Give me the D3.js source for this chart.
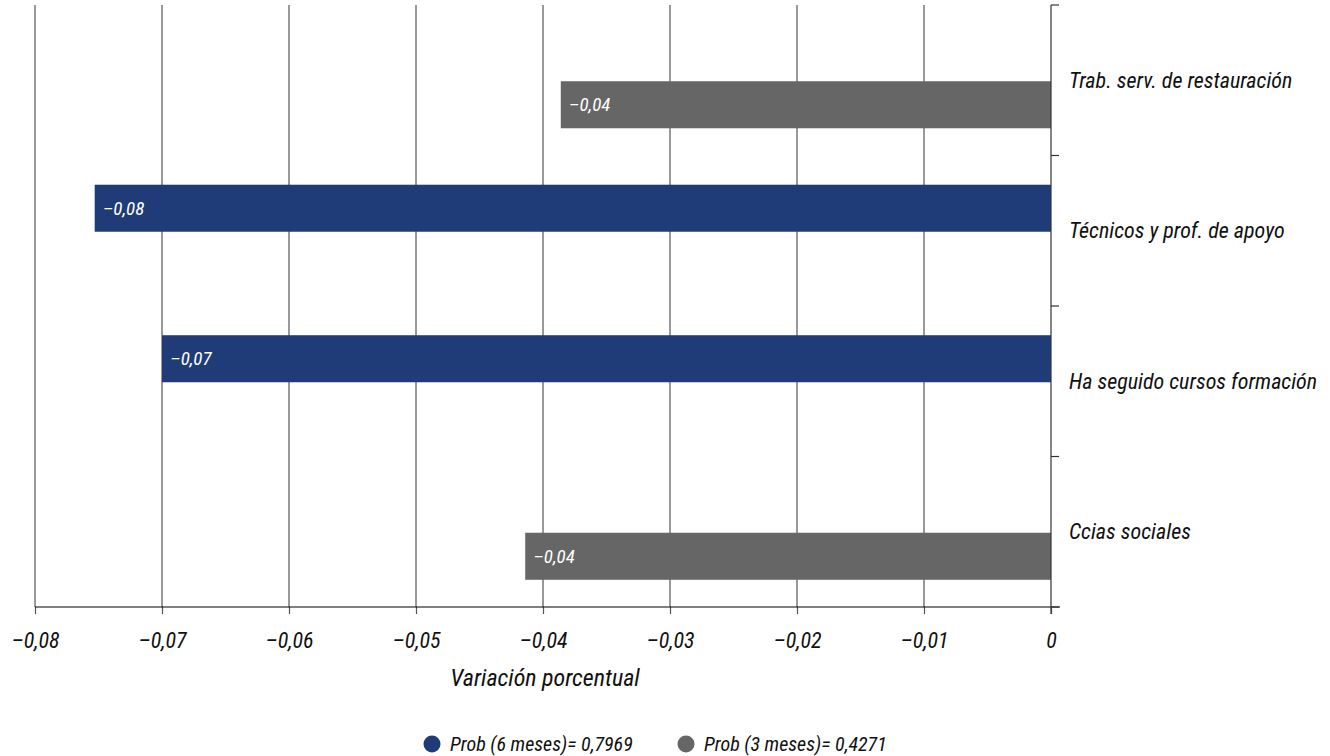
<!DOCTYPE html>
<html><head><meta charset="utf-8">
<script src="https://cdn.jsdelivr.net/npm/d3@7"></script>
<style>
body{margin:0;background:#fff;}
svg text{font-family:"Liberation Sans Narrow","Roboto Condensed","Liberation Sans",Arial,sans-serif;font-style:italic;}
</style></head>
<body><svg id="c" width="1330" height="756"></svg>
<script>
const categories = ["Trab. serv. de restauración","Técnicos y prof. de apoyo","Ha seguido cursos formación","Ccias sociales"];
const seriesNames = ["Prob (6 meses)= 0,7969","Prob (3 meses)= 0,4271"];
const prob6 = [null, -0.0753, -0.0700, null];
const prob3 = [-0.0386, null, null, -0.0414];
const xTicks = [-0.08,-0.07,-0.06,-0.05,-0.04,-0.03,-0.02,-0.01,0];
const colors = ["#1f3c78","#666666"];

const svg = d3.select("#c");
const x = d3.scaleLinear().domain([-0.08,0]).range([35,1051]);
const y = d3.scaleBand().domain(categories).range([5,607]).padding(0);
const yi = d3.scaleBand().domain([0,1]).range([0,y.bandwidth()]).paddingInner(0).paddingOuter(0.6);
const fmt = v => v===0 ? "0" : (v<0?"\u2013":"") + d3.format(".2f")(Math.abs(v)).replace(".",",");

// gridlines
svg.append("g").selectAll("line").data(xTicks.slice(0,-1)).join("line")
  .attr("x1",d=>x(d)).attr("x2",d=>x(d)).attr("y1",5).attr("y2",607)
  .attr("stroke","#555").attr("stroke-width",1.2);

// bars
const rows = [];
categories.forEach((c,i)=>{
  [prob6[i],prob3[i]].forEach((v,s)=>{ if(v!==null) rows.push({c,s,v}); });
});
const g = svg.append("g").attr("transform","translate(0,1)");
g.selectAll("rect").data(rows).join("rect")
  .attr("x",d=>x(d.v)).attr("width",d=>x(0)-x(d.v))
  .attr("y",d=>y(d.c)+yi(d.s)).attr("height",yi.bandwidth())
  .attr("fill",d=>colors[d.s]);
g.selectAll("text").data(rows).join("text")
  .attr("x",d=>x(d.v)+8).attr("y",d=>y(d.c)+yi(d.s)+yi.bandwidth()/2)
  .attr("dy","0.35em").attr("fill","#fff").attr("font-size",19)
  .text(d=>fmt(d.v));

// bottom axis
const xAxis = d3.axisBottom(x).tickValues(xTicks).tickSize(7).tickPadding(18).tickFormat(fmt);
const ax = svg.append("g").attr("transform","translate(0,607)").call(xAxis);
ax.select(".domain").remove();
ax.append("line").attr("x1",35).attr("x2",1060).attr("y1",0).attr("y2",0).attr("stroke","#000").attr("stroke-width",1.2);
ax.selectAll(".tick line").attr("stroke","#555").attr("stroke-width",1.2);
ax.selectAll(".tick text").attr("font-size",22).attr("fill","#111")
  .style("font-family",'"Liberation Sans Narrow","Roboto Condensed",Arial,sans-serif').style("font-style","italic");

// right axis
const yAxis = d3.axisRight(y).tickValues([]).tickSize(0);
const ay = svg.append("g").attr("transform","translate(1051,0)").call(yAxis);
ay.select(".domain").remove();
ay.append("line").attr("x1",0).attr("x2",0).attr("y1",5).attr("y2",614).attr("stroke","#333").attr("stroke-width",1.2);
const bounds = categories.map(c=>y(c)).concat([y.range()[1]]);
ay.selectAll("line.t").data(bounds).join("line").attr("class","t")
  .attr("x1",0).attr("x2",8).attr("y1",d=>d).attr("y2",d=>d).attr("stroke","#333").attr("stroke-width",1.2);
ay.selectAll("text.cat").data(categories).join("text").attr("class","cat")
  .attr("x",18).attr("y",d=>y(d)+y.bandwidth()/2).attr("dy","0.35em")
  .attr("font-size",22).attr("fill","#111").text(d=>d);

// axis title
svg.append("text").attr("x",545).attr("y",686).attr("text-anchor","middle")
  .attr("font-size",24).attr("fill","#111").text("Variación porcentual");

// legend
const lx = [432,686];
const lg = svg.append("g");
seriesNames.forEach((n,i)=>{
  lg.append("circle").attr("cx",lx[i]).attr("cy",744).attr("r",8.5).attr("fill",colors[i]);
  lg.append("text").attr("x",lx[i]+18).attr("y",744).attr("dy","0.35em")
    .attr("font-size",20).attr("fill","#111").text(n);
});
</script></body></html>
